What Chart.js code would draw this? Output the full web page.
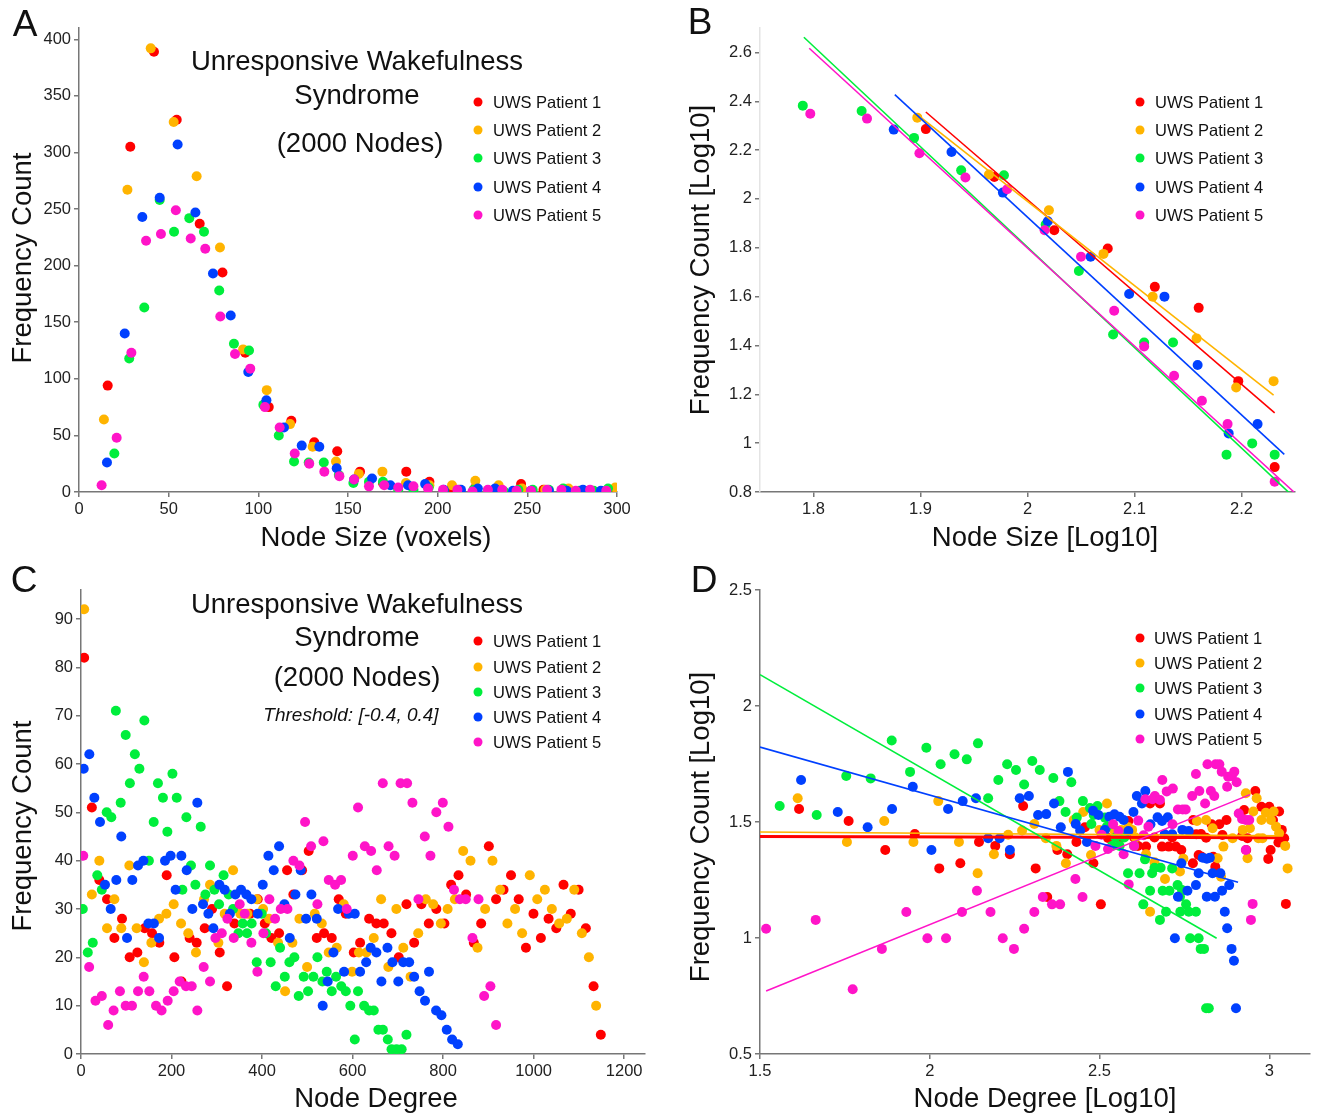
<!DOCTYPE html>
<html>
<head>
<meta charset="utf-8">
<script src="https://cdn.jsdelivr.net/npm/chart.js@4.4.1/dist/chart.umd.min.js"></script>
<style>
  body { margin: 0; background: #fff; width: 1318px; height: 1115px; position: relative; overflow: hidden;
         font-family: "Liberation Sans", Arial, sans-serif; color: #111; }
  canvas { position: absolute; }
  .t { position: absolute; white-space: nowrap; transform: translate(-50%, -50%); }
  .l { position: absolute; white-space: nowrap; transform: translate(0, -50%); font-size: 16.5px; }
  .dot { position: absolute; width: 9px; height: 9px; border-radius: 50%; transform: translate(-50%, -50%); }
  .ttl { font-size: 27.5px; }
  .letter { font-size: 37px; }
  .rot { transform: translate(-50%, -50%) rotate(-90deg); }
</style>
</head>
<body>
<canvas id="cA" width="659" height="557" style="left:0;top:0"></canvas>
<canvas id="cB" width="659" height="557" style="left:659px;top:0"></canvas>
<canvas id="cC" width="659" height="558" style="left:0;top:557px"></canvas>
<canvas id="cD" width="659" height="558" style="left:659px;top:557px"></canvas>

<div class="t letter" style="left:25px;top:24px">A</div>
<div class="t letter" style="left:700px;top:22px">B</div>
<div class="t letter" style="left:24px;top:580px">C</div>
<div class="t letter" style="left:704px;top:580px">D</div>

<div class="t ttl" style="left:357px;top:61px">Unresponsive Wakefulness</div>
<div class="t ttl" style="left:357px;top:95px">Syndrome</div>
<div class="t ttl" style="left:360px;top:143px">(2000 Nodes)</div>
<div class="t ttl" style="left:357px;top:604px">Unresponsive Wakefulness</div>
<div class="t ttl" style="left:357px;top:637px">Syndrome</div>
<div class="t ttl" style="left:357px;top:677px">(2000 Nodes)</div>
<div class="t" style="left:351px;top:715px;font-size:19px;font-style:italic">Threshold: [-0.4, 0.4]</div>

<div class="t ttl" style="left:376px;top:537px">Node Size (voxels)</div>
<div class="t ttl" style="left:1045px;top:537px">Node Size [Log10]</div>
<div class="t ttl" style="left:376px;top:1098px">Node Degree</div>
<div class="t ttl" style="left:1045px;top:1098px">Node Degree [Log10]</div>
<div class="t ttl rot" style="left:22px;top:258px">Frequency Count</div>
<div class="t ttl rot" style="left:700px;top:260px">Frequency Count [Log10]</div>
<div class="t ttl rot" style="left:22px;top:826px">Frequency Count</div>
<div class="t ttl rot" style="left:700px;top:827px">Frequency Count [Log10]</div>

<script>
const patients = ['UWS Patient 1', 'UWS Patient 2', 'UWS Patient 3', 'UWS Patient 4', 'UWS Patient 5'];
const colors = ['#ff0000', '#ffb400', '#00ee3c', '#0040ff', '#ff14c8'];

// A: node size histogram
const sizeP1 = [[16,94],[28.6,305],[41.8,389],[54.5,329],[67.3,237],[80,194],[92.7,123],[105.8,75],[118.4,63],[131.2,44],[144,36],[156.7,18],[169.5,8],[182.5,18],[195.4,9],[208,3],[221,4],[233.5,4],[246.5,7],[259,2],[272,2],[284,1],[297,1]];
const sizeP2 = [[13.9,64],[27,267],[40,392],[52.8,327],[65.6,279],[78.6,216],[91.5,126],[104.7,90],[117.7,60],[130.3,40],[143.3,27],[156,16],[169.2,18],[182.3,8],[195.4,6],[208,6],[221,10],[234,6],[247,3],[260,2],[273,3],[286,1],[299,4]];
const sizeP3 = [[19.7,34],[28,118],[36.4,163],[45,258],[53,230],[61.5,242],[69.7,230],[78.2,178],[86.4,131],[94.8,125],[102.8,77],[111.4,50],[119.9,27],[128.1,26],[136.5,26],[144.9,15],[153,8],[161.7,9],[169.5,9],[178,2],[186.5,2],[195,4],[203.4,1],[212,2],[220,2],[228,1],[237,0.5],[245,2],[253,2],[262,2],[270,3],[279,1],[287,1],[295,3]];
const sizeP4 = [[15.6,26],[25.5,140],[35.3,243],[45,260],[55,307],[64.9,247],[74.7,193],[84.6,156],[94.4,106],[104.5,81],[114.3,57],[124.2,41],[134,40],[143.7,21],[153.4,11],[163.4,12],[173.6,6],[183.5,6],[193,7],[203.4,2],[213,2],[222.4,3],[232,3],[242,1],[252,1],[262,1],[272,1],[281,2],[291,1]];
const sizeP5 = [[12.6,6],[21,48],[29.2,123],[37.4,222],[45.7,228],[54,249],[62.3,224],[70.4,215],[78.8,155],[87,122],[95.5,109],[103.7,75],[111.9,57],[120.3,34],[128.4,25],[136.8,18],[145.2,14],[153.4,11],[161.7,5],[170.2,6],[178,4],[186.5,5],[194.6,3],[203,2],[211,2],[219.4,0.5],[228,2],[236,2],[244,1],[252,1],[261,2],[269,2],[277,1],[285,2],[294,1]];

// B: node size, log-log, with fitted lines
const logSizeP1 = [[1.905,2.286],[1.969,2.09],[2.025,1.872],[2.075,1.797],[2.119,1.64],[2.16,1.554],[2.197,1.254],[2.231,0.902]];
const logSizeP2 = [[1.897,2.333],[1.964,2.10],[2.02,1.954],[2.071,1.775],[2.117,1.60],[2.158,1.429],[2.195,1.228],[2.23,1.254]];
const logSizeP3 = [[1.79,2.382],[1.845,2.36],[1.894,2.25],[1.938,2.117],[1.978,2.097],[2.017,1.895],[2.048,1.705],[2.08,1.445],[2.109,1.412],[2.136,1.412],[2.186,0.953],[2.21,0.999],[2.231,0.953]];
const logSizeP4 = [[1.875,2.284],[1.929,2.192],[1.977,2.026],[2.019,1.909],[2.059,1.763],[2.095,1.611],[2.128,1.60],[2.159,1.32],[2.188,1.04],[2.215,1.078]];
const logSizeP5 = [[1.797,2.349],[1.85,2.329],[1.899,2.187],[1.942,2.088],[1.981,2.04],[2.016,1.872],[2.05,1.763],[2.081,1.542],[2.109,1.396],[2.137,1.276],[2.163,1.174],[2.187,1.078],[2.231,0.842]];
const fitSizeP1 = [[1.905,2.356],[2.231,1.124]];
const fitSizeP2 = [[1.897,2.345],[2.23,1.197]];
const fitSizeP3 = [[1.791,2.662],[2.245,0.795]];
const fitSizeP4 = [[1.876,2.427],[2.24,0.954]];
const fitSizeP5 = [[1.796,2.617],[2.249,0.8]];

// C: node degree histogram
const degP1 = [[7,82],[24,51],[40.5,36],[57.5,32],[73.7,24],[90.6,28],[107.5,20],[124.5,21],[140.7,26],[157,25],[173,23],[189.3,37],[206.3,20],[222,15],[240,24],[255.6,23],[273.3,26],[289.5,30],[306.5,21],[322.7,14],[338.9,27],[373.5,29],[390.4,32],[406,27],[420.6,24],[437.6,25],[455.3,38],[469.2,33],[488.4,38],[503,42],[520.8,24],[537,25],[554,24],[569.4,32],[585,29],[602.6,21],[616.6,23],[636.5,28],[652.6,27],[668.8,27],[685.8,25],[702,20],[719,31],[736,23],[752,31],[768.4,27],[785,30],[802.8,27],[817.7,35],[834,37],[850.8,33],[867.8,23],[884,27],[901,43],[917,32],[933.5,34],[950,37],[967,32],[983,22],[999.6,29],[1016,24],[1033,28],[1050,26],[1066,35],[1082,29],[1099.3,34],[1115.3,26],[1132.4,14],[1148.4,4]];
const degP2 = [[7,92],[24,33],[40.5,40],[57.5,26],[73.7,32],[89,26],[106.8,39],[123,26],[139,19],[155.4,23],[172.4,28],[188.6,29],[204.8,31],[221,27],[237,25],[254,21],[271.8,32],[285,35],[303.5,23],[317.5,29],[336,38],[352,29],[367.6,29],[388.2,32],[402.2,30],[415.5,28],[435.4,23],[450.9,13],[467,23],[482.5,28],[499.5,18],[516.4,29],[531.9,27],[547.3,21],[565,22],[580.5,31],[599,17],[614,21],[630.6,21],[646.8,24],[663,32],[679,18],[696.7,30],[712,22],[728,16],[745,25],[761.8,32],[778,31],[795,27],[810,30],[826,32],[844.3,42],[860.5,40],[876,22],[892.8,30],[909,40],[926,34],[942,27],[959,30],[974.5,25],[991.5,37],[1008,32],[1024.8,34],[1040.2,30],[1056.4,27],[1073.3,28],[1089.7,34],[1106.5,25],[1122,20],[1138,10]];
const degP3 = [[4,30],[15,21],[26,23],[36,37],[46,34],[56.8,50],[67,49],[77,71],[87.7,52],[98.7,66],[108,56],[119,62],[129,59],[140,69],[150,40],[160.6,48],[170,56],[181,53],[190.8,46],[202,58],[211.5,53],[224,34],[232.8,49],[243,39],[252.7,35],[264.5,47],[274.8,33],[285,39],[294.7,34],[305,31],[315,37],[326.3,33],[336,30],[347.7,25],[357.3,27],[366.8,25],[377,27],[388.2,19],[399.3,29],[408.8,25],[419,19],[430.2,14],[439.8,22],[450.2,16],[460.4,19],[471.4,20],[481,12],[492,16],[501.6,13],[513.4,16],[522.3,20],[533.3,15],[542.9,17],[554,13],[563.5,16],[575,14],[585,13],[595,10],[604.8,3],[612,13],[625.5,10],[636.5,9],[646.8,9],[657,5],[667,5],[677.8,3],[686,1],[697,1],[708.4,1],[719,4]];
const degP4 = [[6,59],[18.4,62],[29.5,53],[42,48],[53,35],[65.6,30],[78,36],[89,45],[101.7,24],[113.4,36],[126,39],[137.8,40],[148.8,27],[161,27],[172.4,24],[185.6,40],[198,41],[209,34],[221.7,41],[233.5,38],[246,30],[257,52],[269.6,31],[281.4,29],[292.4,26],[305.7,35],[317.5,34],[329,29],[341,33],[353.6,34],[365.4,33],[376.4,32],[390.4,29],[401.5,35],[414,41],[425.8,38],[437.6,43],[449.4,31],[461.2,24],[473.7,33],[485.4,38],[497.2,28],[509,33],[520.8,28],[534,10],[545,15],[557.7,21],[568,30],[581.2,17],[591.6,29],[604.8,29],[616.6,17],[630,19],[640,22],[652.6,21],[663.7,15],[677,22],[688,19],[701,15],[712,19],[725,19],[736,16],[748,13],[760,11],[768.8,17],[784.5,9],[796.3,8],[808,5],[819.9,3],[832.4,2]];
const degP5 = [[5,41],[18,18],[32,11],[46,12],[60,6],[72,9],[86,13],[98.7,10],[112.7,10],[126,13],[138.5,16],[151,13],[165.7,10],[178,9],[191.5,11],[204.8,13],[218,15],[232,14],[244.6,14],[257,9],[271,18],[285,15],[296.9,24],[311,25],[323.4,28],[337.4,24],[350.6,31],[361.7,29],[376.4,23],[389.7,17],[403,25],[416.2,32],[428.7,28],[441.3,30],[456,30],[469.2,40],[482.5,39],[495,48],[508.3,43],[522.3,31],[535.6,44],[547.3,36],[561.3,35],[574.6,36],[587,30],[600.4,41],[612,51],[627,43],[640.9,42],[653.4,38],[666.7,56],[679.5,43],[692.8,41],[706,56],[720.4,56],[732.2,52],[745.5,32],[759.5,45],[772,41],[785,50],[799.3,52],[811.8,47],[824,34],[837,32],[850,32],[864.8,24],[878.2,32],[890.6,12],[904.5,14],[917,6]];

// D: node degree, log-log, with fitted lines
const logDegP1 = [[1.615,1.556],[1.761,1.504],[1.869,1.379],[1.956,1.448],[2.028,1.3],[2.09,1.322],[2.145,1.414],[2.193,1.397],[2.236,1.361],[2.275,1.569],[2.312,1.3],[2.346,1.177],[2.376,1.379],[2.405,1.361],[2.432,1.414],[2.457,1.477],[2.482,1.322],[2.504,1.145],[2.525,1.431],[2.549,1.433],[2.565,1.433],[2.585,1.504],[2.602,1.433],[2.613,1.397],[2.637,1.394],[2.649,1.58],[2.662,1.433],[2.678,1.58],[2.684,1.394],[2.704,1.394],[2.714,1.433],[2.725,1.394],[2.741,1.379],[2.775,1.322],[2.776,1.509],[2.785,1.447],[2.792,1.358],[2.799,1.448],[2.801,1.35],[2.814,1.432],[2.83,1.49],[2.835,1.35],[2.841,1.307],[2.853,1.49],[2.862,1.444],[2.874,1.509],[2.92,1.44],[2.926,1.552],[2.932,1.379],[2.936,1.43],[2.959,1.634],[2.977,1.566],[2.997,1.341],[3.0,1.566],[3.004,1.379],[3.011,1.509],[3.027,1.412],[3.029,1.545],[3.037,1.466],[3.044,1.43],[3.049,1.147]];
const logDegP2 = [[1.611,1.602],[1.756,1.414],[1.866,1.504],[1.952,1.414],[2.025,1.59],[2.086,1.414],[2.141,1.279],[2.189,1.361],[2.231,1.445],[2.272,1.463],[2.308,1.491],[2.342,1.43],[2.373,1.397],[2.401,1.322],[2.424,1.509],[2.452,1.543],[2.475,1.358],[2.5,1.466],[2.522,1.58],[2.543,1.466],[2.564,1.466],[2.585,1.477],[2.596,1.466],[2.606,1.433],[2.637,1.361],[2.649,1.113],[2.662,1.326],[2.693,1.254],[2.737,1.287],[2.747,1.342],[2.787,1.504],[2.814,1.509],[2.833,1.473],[2.848,1.344],[2.858,1.264],[2.865,1.394],[2.892,1.43],[2.922,1.466],[2.931,1.624],[2.936,1.344],[2.943,1.473],[2.953,1.545],[2.963,1.602],[2.968,1.43],[2.977,1.509],[2.98,1.43],[2.99,1.54],[3.005,1.509],[3.013,1.545],[3.02,1.48],[3.029,1.451],[3.047,1.397],[3.054,1.3]];
const logDegP3 = [[1.558,1.569],[1.667,1.53],[1.754,1.698],[1.826,1.688],[1.888,1.851],[1.942,1.716],[1.99,1.82],[2.032,1.749],[2.073,1.792],[2.109,1.77],[2.142,1.839],[2.172,1.602],[2.202,1.681],[2.228,1.749],[2.254,1.724],[2.278,1.662],[2.302,1.763],[2.324,1.724],[2.364,1.69],[2.382,1.59],[2.4,1.543],[2.417,1.671],[2.433,1.519],[2.451,1.59],[2.472,1.56],[2.476,1.491],[2.483,1.53],[2.494,1.569],[2.516,1.519],[2.522,1.48],[2.537,1.397],[2.547,1.433],[2.559,1.397],[2.573,1.433],[2.584,1.279],[2.602,1.397],[2.618,1.279],[2.629,1.145],[2.634,1.339],[2.649,1.204],[2.655,1.279],[2.662,1.303],[2.678,1.078],[2.68,1.303],[2.686,1.204],[2.696,1.113],[2.706,1.204],[2.714,1.3],[2.73,1.228],[2.737,1.178],[2.738,1.113],[2.743,1.207],[2.755,1.145],[2.763,1.113],[2.767,0.999],[2.784,1.113],[2.792,0.999],[2.798,0.953],[2.808,0.953],[2.814,0.697],[2.822,0.697]];
const logDegP4 = [[1.621,1.681],[1.729,1.543],[1.817,1.477],[1.889,1.556],[1.95,1.652],[2.005,1.379],[2.054,1.556],[2.097,1.59],[2.136,1.602],[2.172,1.43],[2.206,1.43],[2.236,1.379],[2.265,1.602],[2.292,1.612],[2.319,1.53],[2.343,1.534],[2.366,1.58],[2.386,1.477],[2.407,1.716],[2.43,1.491],[2.443,1.463],[2.463,1.414],[2.481,1.548],[2.497,1.53],[2.516,1.466],[2.529,1.523],[2.544,1.533],[2.559,1.523],[2.571,1.509],[2.585,1.461],[2.6,1.543],[2.61,1.612],[2.625,1.58],[2.635,1.634],[2.65,1.49],[2.671,1.52],[2.684,1.504],[2.692,1.447],[2.701,1.52],[2.714,1.447],[2.722,0.999],[2.731,1.178],[2.741,1.322],[2.744,1.466],[2.759,1.204],[2.763,1.461],[2.784,1.228],[2.792,1.279],[2.804,1.346],[2.816,1.178],[2.816,1.342],[2.825,1.346],[2.833,1.279],[2.84,1.178],[2.856,1.279],[2.861,1.204],[2.869,1.113],[2.876,1.042],[2.882,1.228],[2.889,0.953],[2.896,0.902],[2.902,0.697]];
const logDegP5 = [[1.518,1.04],[1.664,1.078],[1.773,0.779],[1.859,0.953],[1.931,1.112],[1.993,0.999],[2.048,0.999],[2.095,1.112],[2.139,1.204],[2.179,1.112],[2.215,0.999],[2.248,0.953],[2.278,1.04],[2.308,1.112],[2.333,1.177],[2.36,1.145],[2.384,1.145],[2.429,1.254],[2.45,1.177],[2.488,1.397],[2.506,1.445],[2.525,1.384],[2.54,1.49],[2.556,1.461],[2.571,1.361],[2.586,1.231],[2.602,1.397],[2.614,1.506],[2.63,1.443],[2.635,1.598],[2.644,1.48],[2.656,1.598],[2.663,1.612],[2.678,1.595],[2.685,1.681],[2.698,1.632],[2.715,1.49],[2.716,1.644],[2.731,1.554],[2.745,1.554],[2.754,1.554],[2.773,1.612],[2.784,1.707],[2.794,1.634],[2.811,1.58],[2.818,1.749],[2.828,1.634],[2.838,1.612],[2.842,1.749],[2.853,1.749],[2.86,1.717],[2.876,1.652],[2.879,1.695],[2.89,1.698],[2.897,1.717],[2.904,1.671],[2.91,1.537],[2.92,1.513],[2.931,1.509],[2.931,1.379],[2.941,1.509],[2.946,1.078],[2.951,1.147]];
const fitDegP1 = [[1.5,1.437],[3.04,1.432]];
const fitDegP2 = [[1.5,1.457],[3.04,1.44]];
const fitDegP3 = [[1.5,2.135],[2.845,0.999]];
const fitDegP4 = [[1.5,1.823],[2.908,1.24]];
const fitDegP5 = [[1.518,0.772],[2.943,1.618]];

// tick values
const ticksAx = [0, 50, 100, 150, 200, 250, 300];
const ticksAy = [0, 50, 100, 150, 200, 250, 300, 350, 400];
const ticksBx = [1.8, 1.9, 2, 2.1, 2.2];
const ticksBy = [0.8, 1, 1.2, 1.4, 1.6, 1.8, 2, 2.2, 2.4, 2.6];
const ticksCx = [0, 200, 400, 600, 800, 1000, 1200];
const ticksCy = [0, 10, 20, 30, 40, 50, 60, 70, 80, 90];
const ticksDx = [1.5, 2, 2.5, 3];
const ticksDy = [0.5, 1, 1.5, 2, 2.5];

Chart.defaults.font.family = '"Liberation Sans", Arial, sans-serif';

const pts = arr => arr.map(([x, y]) => ({ x, y }));
const fmt = v => String(Math.round(v * 100) / 100);

function scale(min, max, tickVals, fit, borderColor) {
  return {
    type: 'linear', min, max,
    afterBuildTicks: s => { s.ticks = tickVals.map(v => ({ value: v })); },
    afterFit: fit,
    ticks: { font: { size: 16.5 }, color: '#222', padding: 3, autoSkip: false, maxRotation: 0, callback: v => fmt(v) },
    grid: { drawOnChartArea: false, color: '#777', tickLength: 5, lineWidth: 1.5 },
    border: { color: borderColor, width: 1.5 }
  };
}

function makeChart(id, series, fits, xr, yr, xt, yt, area, yBorder, redWidth) {
  const cv = document.getElementById(id);
  const W = cv.width, H = cv.height;
  const datasets = [];
  series.forEach((s, i) => {
    datasets.push({ data: pts(s), backgroundColor: colors[i], borderWidth: 0, pointRadius: 5, order: 10 - i });
  });
  (fits || []).forEach((f, i) => {
    datasets.push({ data: pts(f), showLine: true, borderColor: colors[i], borderWidth: (i === 0 && redWidth) ? redWidth : 1.6, pointRadius: 0, order: 5 - i });
  });
  new Chart(cv, {
    type: 'scatter',
    data: { datasets },
    options: {
      responsive: false, animation: false, events: [],
      layout: { padding: { left: 0, top: area.top, right: W - area.right, bottom: 0 } },
      plugins: { legend: { display: false }, tooltip: { enabled: false } },
      scales: {
        x: scale(xr[0], xr[1], xt, s => { s.height = H - area.bottom; }, '#777'),
        y: scale(yr[0], yr[1], yt, s => { s.width = area.left; }, yBorder)
      }
    }
  });
}

makeChart('cA', [sizeP1, sizeP2, sizeP3, sizeP4, sizeP5], null, [0, 300], [0, 410], ticksAx, ticksAy,
  { left: 79, right: 617, top: 28, bottom: 492 }, '#777');
makeChart('cB', [logSizeP1, logSizeP2, logSizeP3, logSizeP4, logSizeP5],
  [fitSizeP1, fitSizeP2, fitSizeP3, fitSizeP4, fitSizeP5], [1.75, 2.25], [0.8, 2.7], ticksBx, ticksBy,
  { left: 101, right: 636, top: 28, bottom: 492 }, '#e4e4e4');
makeChart('cC', [degP1, degP2, degP3, degP4, degP5], null, [0, 1246], [0, 96], ticksCx, ticksCy,
  { left: 81, right: 645, top: 33, bottom: 497 }, '#777');
makeChart('cD', [logDegP1, logDegP2, logDegP3, logDegP4, logDegP5],
  [fitDegP1, fitDegP2, fitDegP3, fitDegP4, fitDegP5], [1.5, 3.12], [0.5, 2.5], ticksDx, ticksDy,
  { left: 101, right: 651, top: 33, bottom: 497 }, '#777', 3);

// legends
const legendSpots = [
  { dotX: 478, textX: 493, rows: [102, 130, 158, 187, 215] },
  { dotX: 1140, textX: 1155, rows: [102, 130, 158, 187, 215] },
  { dotX: 478, textX: 493, rows: [641, 667, 692, 717, 742] },
  { dotX: 1140, textX: 1154, rows: [638, 663, 688, 714, 739] }
];
legendSpots.forEach(spot => {
  patients.forEach((name, i) => {
    const d = document.createElement('div');
    d.className = 'dot';
    d.style.left = spot.dotX + 'px';
    d.style.top = spot.rows[i] + 'px';
    d.style.background = colors[i];
    document.body.appendChild(d);
    const t = document.createElement('div');
    t.className = 'l';
    t.style.left = spot.textX + 'px';
    t.style.top = spot.rows[i] + 'px';
    t.textContent = name;
    document.body.appendChild(t);
  });
});
</script>
</body>
</html>
